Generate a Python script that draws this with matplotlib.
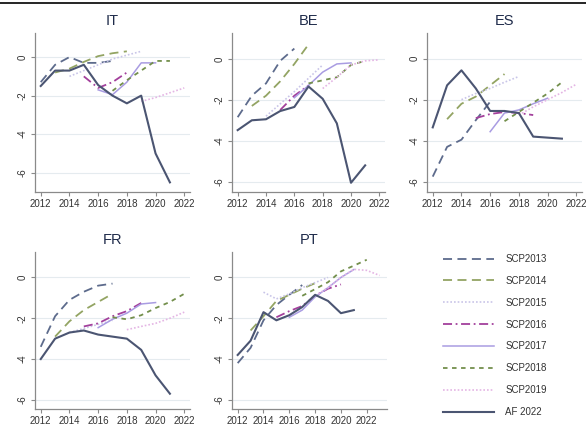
import numpy as np
import matplotlib
matplotlib.use("Agg")
import matplotlib.pyplot as plt
from matplotlib.lines import Line2D

nan = np.nan

# Séries (premières années de chaque programme)
vintages = ["SCP2013", "SCP2014", "SCP2015", "SCP2016", "SCP2017", "SCP2018", "SCP2019", "AF 2022"]
first_year = [2012, 2013, 2014, 2015, 2016, 2017, 2018, 2012]

# IT
it_scp2013 = [-1.3, -0.4, 0.0, -0.3, -0.3, -0.2]
it_scp2014 = [-0.8, -0.6, -0.25, 0.05, 0.2, 0.3]
it_scp2015 = [-1.0, -0.7, -0.4, -0.1, 0.1, 0.3]
it_scp2016 = [-1.0, -1.6, -1.3, -0.8]
it_scp2017 = [-1.7, -1.95, -1.3, -0.3, -0.3]
it_scp2018 = [-1.75, -1.2, -0.7, -0.2, -0.2]
it_scp2019 = [nan, -2.3, -2.1, -1.85, -1.6]
it_af = [-1.5, -0.7, -0.7, -0.4, -1.45, -2.0, -2.4, -2.0, -5.0, -6.5]

# BE
be_scp2013 = [-2.85, -1.8, -1.2, -0.1, 0.5]
be_scp2014 = [-2.3, -1.8, -1.1, -0.25, 0.7]
be_scp2015 = [-2.8, -2.2, -1.6, -0.95, -0.3]
be_scp2016 = [-2.5, -1.8, -1.3]
be_scp2017 = [-1.9, -1.3, -0.65, -0.25, -0.2]
be_scp2018 = [-1.2, -1.05, -0.9, -0.3, -0.1]
be_scp2019 = [-1.45, -0.9, -0.3, -0.1, -0.05]
be_af = [-3.48, -3.0, -2.95, -2.55, -2.35, -1.35, -1.95, -3.15, -6.05, -5.2]

# ES
es_scp2013 = [-5.75, -4.3, -3.95, -3.0, -2.1]
es_scp2014 = [-2.95, -2.2, -1.85, -1.3, -0.75]
es_scp2015 = [-2.0, -1.7, -1.45, -1.15, -0.87]
es_scp2016 = [-2.9, -2.7, -2.6, -2.65, -2.75]
es_scp2017 = [-3.56, -2.65, -2.5, -2.2, -1.93]
es_scp2018 = [-3.05, -2.6, -2.15, -1.7, -1.15]
es_scp2019 = [-2.75, -2.35, -2.0, -1.65, -1.25]
es_af = [-3.35, -1.3, -0.57, -1.45, -2.55, -2.55, -2.65, -3.8, -3.85, -3.9]

# FR
fr_scp2013 = [-3.4, -1.9, -1.1, -0.7, -0.4, -0.3]
fr_scp2014 = [-2.9, -2.15, -1.6, -1.2, -0.8]
fr_scp2015 = [-2.7, -2.5, -2.3, -2.1]
fr_scp2016 = [-2.4, -2.25, -1.9, -1.65, -1.25]
fr_scp2017 = [-2.46, -2.05, -1.75, -1.3, -1.23]
fr_scp2018 = [-1.95, -2.05, -1.85, -1.5, -1.2, -0.8]
fr_scp2019 = [-2.56, -2.4, -2.25, -2.0, -1.7]
fr_af = [-4.0, -3.0, -2.7, -2.6, -2.8, -2.9, -3.0, -3.55, -4.8, -5.7]

# PT
pt_scp2013 = [-4.2, -3.45, -2.1, -1.35, -0.85, -0.37]
pt_scp2014 = [-2.6, -1.9, -1.15, -0.85, -0.55, -0.28]
pt_scp2015 = [-0.72, -1.05, -0.8, -0.5, -0.25, 0.0]
pt_scp2016 = [-1.95, -1.65, -1.4, -0.9, -0.55, -0.34]
pt_scp2017 = [-1.95, -1.6, -0.95, -0.5, 0.0, 0.39]
pt_scp2018 = [-0.9, -0.57, -0.23, 0.3, 0.58, 0.87]
pt_scp2019 = [-0.9, -0.5, 0.0, 0.4, 0.35, 0.1]
pt_af = [-3.8, -3.1, -1.7, -2.1, -1.85, -1.45, -0.85, -1.15, -1.75, -1.6]

countries = ["IT", "BE", "ES", "FR", "PT"]
data = {
    "IT": [it_scp2013, it_scp2014, it_scp2015, it_scp2016, it_scp2017, it_scp2018, it_scp2019, it_af],
    "BE": [be_scp2013, be_scp2014, be_scp2015, be_scp2016, be_scp2017, be_scp2018, be_scp2019, be_af],
    "ES": [es_scp2013, es_scp2014, es_scp2015, es_scp2016, es_scp2017, es_scp2018, es_scp2019, es_af],
    "FR": [fr_scp2013, fr_scp2014, fr_scp2015, fr_scp2016, fr_scp2017, fr_scp2018, fr_scp2019, fr_af],
    "PT": [pt_scp2013, pt_scp2014, pt_scp2015, pt_scp2016, pt_scp2017, pt_scp2018, pt_scp2019, pt_af],
}

# styles
colors = ["#5d6b8c", "#93a463", "#c9c5e8", "#a3409c", "#a99ce2", "#738f4c", "#e4b5e4", "#4b5572"]
styles = [(0, (5, 3)), (0, (5, 3)), (0, (1, 1.2)), (0, (5, 2, 1, 2)), "-", (0, (2.5, 2.5)), (0, (1, 1.2)), "-"]
widths = [1.3, 1.3, 1.2, 1.3, 1.1, 1.3, 1.2, 1.5]

plt.rcParams["font.family"] = ["Liberation Sans", "DejaVu Sans"]

fig = plt.figure(figsize=(5.86, 4.25), dpi=100)
W, H = 586, 425

# positions en pixels: gauche, haut, droite, bas
boxes = {
    "IT": (35, 33, 190, 192),
    "BE": (232, 33, 385, 192),
    "ES": (427, 33, 582, 192),
    "FR": (35, 252, 190, 409),
    "PT": (232, 252, 387, 409),
}
xlims = {"IT": (2011.6, 2022.4), "BE": (2011.6, 2022.4), "ES": (2011.6, 2022.4),
         "FR": (2011.6, 2022.4), "PT": (2011.56, 2023.57)}
ylims = {"IT": (-7.0, 1.25), "BE": (-6.5, 1.26), "ES": (-6.5, 1.25),
         "FR": (-6.45, 1.25), "PT": (-6.45, 1.25)}

for c in countries:
    l, t, r, b = boxes[c]
    ax = fig.add_axes([l / W, 1 - b / H, (r - l) / W, (b - t) / H])
    for k, serie in enumerate(data[c]):
        yrs = np.arange(first_year[k], first_year[k] + len(serie))
        ax.plot(yrs, serie, color=colors[k], linestyle=styles[k], linewidth=widths[k],
                label=vintages[k], zorder=3 + (k == 7))
    ax.set_xlim(*xlims[c])
    ax.set_ylim(*ylims[c])
    ax.set_xticks(range(2012, 2023, 2))
    ax.set_yticks([0, -2, -4, -6])
    ax.set_yticklabels(["0", "-2", "-4", "-6"], rotation=90, va="center")
    ax.grid(axis="y", color="#e5ebef", linewidth=0.8)
    ax.set_axisbelow(True)
    for s in ["top", "right"]:
        ax.spines[s].set_visible(False)
    for s in ["left", "bottom"]:
        ax.spines[s].set_color("#8a8a8a")
        ax.spines[s].set_linewidth(0.9)
    ax.tick_params(labelsize=7, colors="#8a8a8a", labelcolor="#333333", length=3, width=0.8, pad=2)
    ax.set_title(c, fontsize=10.5, color="#1f2b4a", pad=6)

handles, labels = ax.get_legend_handles_labels()
fig.legend(handles, labels, loc="upper left", bbox_to_anchor=(443 / W, 1 - 254 / H),
           frameon=False, fontsize=7, handlelength=5.2, handletextpad=1.2,
           labelspacing=1.22, borderpad=0, borderaxespad=0, labelcolor="#333333")

fig.add_artist(Line2D([0, 1], [1 - 3 / H, 1 - 3 / H], color="black", linewidth=1.2))

plt.savefig("out.png", dpi=100)
